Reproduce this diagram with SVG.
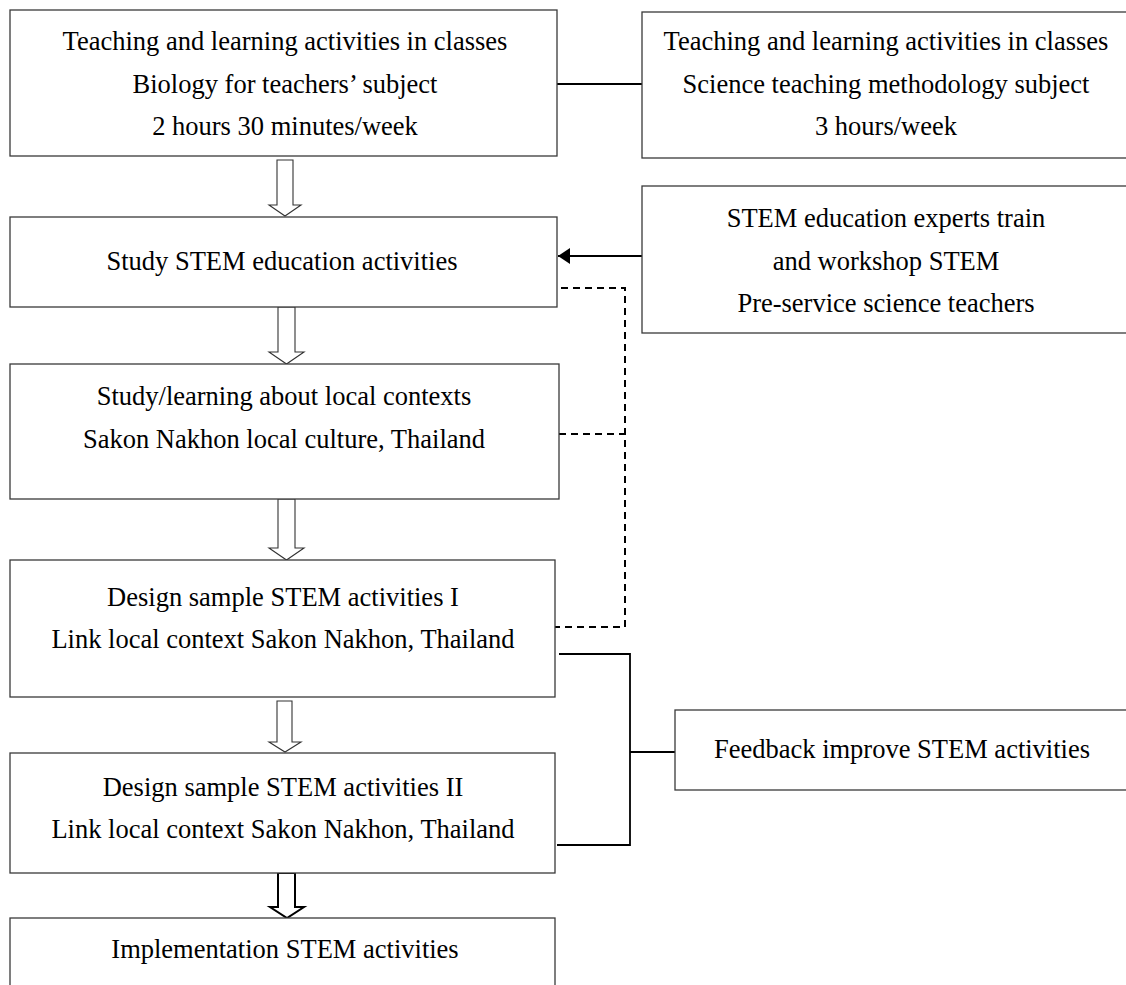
<svg xmlns="http://www.w3.org/2000/svg" width="1126" height="985" viewBox="0 0 1126 985">
<style>
.box{fill:#fff;stroke:#3a3a3a;stroke-width:1.3}
.t{font-family:"Liberation Serif","Times New Roman",serif;font-size:26.5px;fill:#000;text-anchor:middle}
.ln{fill:none;stroke:#000;stroke-width:1.8}
.dash{fill:none;stroke:#000;stroke-width:2;stroke-dasharray:7,5}
.blk{fill:#fff;stroke:#333;stroke-width:1.1}
.blk2{fill:#fff;stroke:#000;stroke-width:2}
</style>
<defs>
<marker id="ah" markerWidth="13" markerHeight="16" refX="12" refY="8" orient="auto" markerUnits="userSpaceOnUse">
<path d="M0,0 L12,8 L0,16 Z" fill="#000"/>
</marker>
</defs>
<rect width="1126" height="985" fill="#fff"/>
<g id="connectors">
<line class="ln" x1="557" y1="84" x2="642" y2="84"/>
<line class="ln" x1="642" y1="256" x2="558" y2="256" marker-end="url(#ah)"/>
<polyline class="dash" points="561,288 625,288 625,627 555,627"/>
<line class="dash" x1="559" y1="434" x2="625" y2="434"/>
<polyline class="ln" points="559,654 630,654 630,845 557,845"/>
<line class="ln" x1="630" y1="752" x2="675" y2="752"/>
<path class="blk" d="M277,160 H293 V205 H301 L285,216 L269,205 H277 Z"/>
<path class="blk" d="M278,307 H295 V352 H304 L286.5,364 L269,352 H278 Z"/>
<path class="blk" d="M278,499 H295 V548 H304 L286.5,560 L269,548 H278 Z"/>
<path class="blk" d="M277,701 H292 V742 H301 L285,752 L269,742 H277 Z"/>
<path class="blk2" d="M278,873 H295 V907 H304 L287,918 L270,907 H278 Z"/>
</g>
<g id="n1">
<rect class="box" x="10" y="10" width="547" height="146"/>
<text class="t" x="285" y="50">Teaching and learning activities in classes</text>
<text class="t" x="285" y="93">Biology for teachers’ subject</text>
<text class="t" x="285" y="135">2 hours 30 minutes/week</text>
</g>
<g id="n2">
<rect class="box" x="642" y="12" width="500" height="146"/>
<text class="t" x="886" y="50">Teaching and learning activities in classes</text>
<text class="t" x="886" y="93">Science teaching methodology subject</text>
<text class="t" x="886" y="135">3 hours/week</text>
</g>
<g id="n3">
<rect class="box" x="10" y="217" width="547" height="90"/>
<text class="t" x="282" y="270">Study STEM education activities</text>
</g>
<g id="n4">
<rect class="box" x="642" y="186" width="500" height="147"/>
<text class="t" x="886" y="227">STEM education experts train</text>
<text class="t" x="886" y="270">and workshop STEM</text>
<text class="t" x="886" y="312">Pre-service science teachers</text>
</g>
<g id="n5">
<rect class="box" x="10" y="364" width="549" height="135"/>
<text class="t" x="284" y="405">Study/learning about local contexts</text>
<text class="t" x="284" y="448">Sakon Nakhon local culture, Thailand</text>
</g>
<g id="n6">
<rect class="box" x="10" y="560" width="545" height="137"/>
<text class="t" x="283" y="606">Design sample STEM activities I</text>
<text class="t" x="283" y="648">Link local context Sakon Nakhon, Thailand</text>
</g>
<g id="n7">
<rect class="box" x="10" y="753" width="545" height="120"/>
<text class="t" x="283" y="796">Design sample STEM activities II</text>
<text class="t" x="283" y="838">Link local context Sakon Nakhon, Thailand</text>
</g>
<g id="n8">
<rect class="box" x="10" y="918" width="545" height="80"/>
<text class="t" x="285" y="958">Implementation STEM activities</text>
</g>
<g id="n9">
<rect class="box" x="675" y="710" width="470" height="80"/>
<text class="t" x="902" y="758">Feedback improve STEM activities</text>
</g>
</svg>
